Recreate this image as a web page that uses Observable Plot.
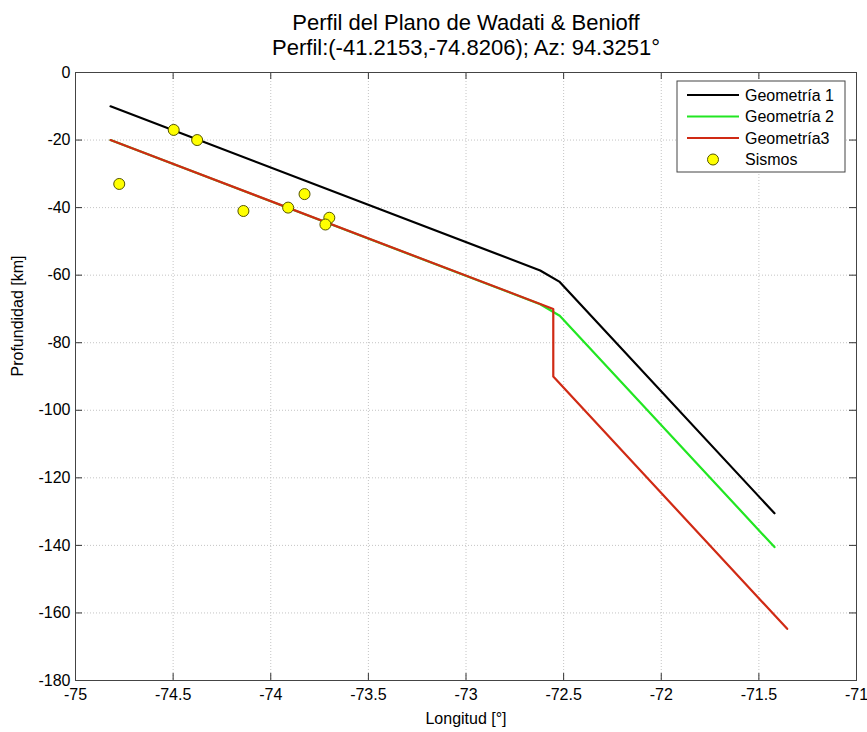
<!DOCTYPE html>
<html>
<head>
<meta charset="utf-8">
<script src="https://cdn.jsdelivr.net/npm/d3@7"></script>
<script src="https://cdn.jsdelivr.net/npm/@observablehq/plot@0.6"></script>
<style>
  html, body { margin: 0; padding: 0; background: #fff; }
  #wrap { position: relative; width: 867px; height: 732px; font-family: "Liberation Sans", Arial, sans-serif; }
  #legend { position: absolute; left: 0; top: 0; pointer-events: none; }
</style>
</head>
<body>
<div id="wrap"></div>
<script>
// ---- Data ----
const titleLines = ["Perfil del Plano de Wadati & Benioff", "Perfil:(-41.2153,-74.8206); Az: 94.3251°"];
const xLabel = "Longitud [°]";
const yLabel = "Profundidad [km]";
const xTicks = [-75, -74.5, -74, -73.5, -73, -72.5, -72, -71.5, -71];
const yTicks = [-180, -160, -140, -120, -100, -80, -60, -40, -20, 0];

const seriesNames = ["Geometría 1", "Geometría 2", "Geometría3"];
const seriesColors = ["#000000", "#22e622", "#d02a14"];

const geo1Lon = [-74.8206, -72.62, -72.52, -71.42];
const geo1Depth = [-10, -58.6, -62, -130.5];
const geo2Lon = [-74.8206, -72.62, -72.52, -71.42];
const geo2Depth = [-20, -68.6, -72, -140.5];
const geo3Lon = [-74.8206, -72.553, -72.553, -71.355];
const geo3Depth = [-20, -70, -90, -164.7];

const sismosName = "Sismos";
const sismosLon = [-74.776, -74.497, -74.377, -74.14, -73.911, -73.827, -73.70, -73.72];
const sismosDepth = [-33, -17, -20, -41, -40, -36, -43, -45];

// ---- Build tables ----
const lineData = [
  ...geo1Lon.map((x, i) => ({x, y: geo1Depth[i], s: seriesNames[0]})),
  ...geo2Lon.map((x, i) => ({x, y: geo2Depth[i], s: seriesNames[1]})),
  ...geo3Lon.map((x, i) => ({x, y: geo3Depth[i], s: seriesNames[2]}))
];
const points = sismosLon.map((x, i) => ({x, y: sismosDepth[i]}));

const W = 867, H = 732;
const mL = 75, mR = 11, mT = 72, mB = 52;
const plotH = H - mT - mB, plotW = W - mL - mR;
const tick = 7;
const font = "Liberation Sans, Arial, sans-serif";

const chart = Plot.plot({
  width: W,
  height: H,
  marginLeft: mL,
  marginRight: mR,
  marginTop: mT,
  marginBottom: mB,
  style: {fontFamily: font, background: "#fff", overflow: "visible"},
  x: {domain: [-75, -71], ticks: xTicks},
  y: {domain: [-180, 0], ticks: yTicks},
  color: {domain: seriesNames, range: seriesColors},
  marks: [
    Plot.gridX(xTicks, {stroke: "#c4c4c4", strokeOpacity: 1, strokeDasharray: "1,2"}),
    Plot.gridY(yTicks, {stroke: "#c4c4c4", strokeOpacity: 1, strokeDasharray: "1,2"}),
    // inward ticks on all four sides
    Plot.tickX(xTicks, {x: d => d, insetTop: plotH - tick, stroke: "#333"}),
    Plot.tickX(xTicks, {x: d => d, insetBottom: plotH - tick, stroke: "#333"}),
    Plot.tickY(yTicks, {y: d => d, insetRight: plotW - tick, stroke: "#333"}),
    Plot.tickY(yTicks, {y: d => d, insetLeft: plotW - tick, stroke: "#333"}),
    Plot.axisX(xTicks, {tickSize: 0, tickPadding: 8, fontSize: 16, fill: "#000", tickFormat: d => String(d), label: null}),
    Plot.axisY(yTicks, {tickSize: 0, tickPadding: 5, fontSize: 16, fill: "#000", tickFormat: d => String(d), label: null}),
    Plot.line(lineData, {x: "x", y: "y", z: "s", stroke: "s", strokeWidth: 2.2}),
    Plot.dot(points, {x: "x", y: "y", r: 5.5, fill: "#ffff00", stroke: "#555500", strokeWidth: 1}),
    Plot.frame({stroke: "#444", strokeWidth: 1}),
    Plot.text([xLabel], {frameAnchor: "bottom", dy: 38, fontSize: 16, fill: "#000", lineAnchor: "middle"}),
    Plot.text([yLabel], {frameAnchor: "left", dx: -58, rotate: -90, fontSize: 16, fill: "#000", lineAnchor: "middle"}),
    Plot.text([titleLines[0]], {frameAnchor: "top", dy: -50, fontSize: 22, fill: "#000", lineAnchor: "middle"}),
    Plot.text([titleLines[1]], {frameAnchor: "top", dy: -25, fontSize: 22, fill: "#000", lineAnchor: "middle"})
  ]
});

const wrap = document.getElementById("wrap");
wrap.appendChild(chart);

// ---- Legend (overlay) ----
const lg = d3.create("svg").attr("id", "legend").attr("width", W).attr("height", H)
  .style("font-family", font);
const bx = 677, by = 81, bw = 168, bh = 91;
lg.append("rect").attr("x", bx).attr("y", by).attr("width", bw).attr("height", bh)
  .attr("fill", "#fff").attr("stroke", "#444");
const rowY = [95, 116.5, 138, 159.5];
seriesNames.forEach((name, i) => {
  lg.append("line").attr("x1", 687).attr("x2", 739).attr("y1", rowY[i]).attr("y2", rowY[i])
    .attr("stroke", seriesColors[i]).attr("stroke-width", 2.2);
  lg.append("text").attr("x", 745).attr("y", rowY[i]).attr("dy", "0.35em")
    .attr("font-size", 16).text(name);
});
lg.append("circle").attr("cx", 713).attr("cy", rowY[3]).attr("r", 5.5)
  .attr("fill", "#ffff00").attr("stroke", "#555500");
lg.append("text").attr("x", 745).attr("y", rowY[3]).attr("dy", "0.35em")
  .attr("font-size", 16).text(sismosName);
wrap.appendChild(lg.node());
</script>
</body>
</html>
